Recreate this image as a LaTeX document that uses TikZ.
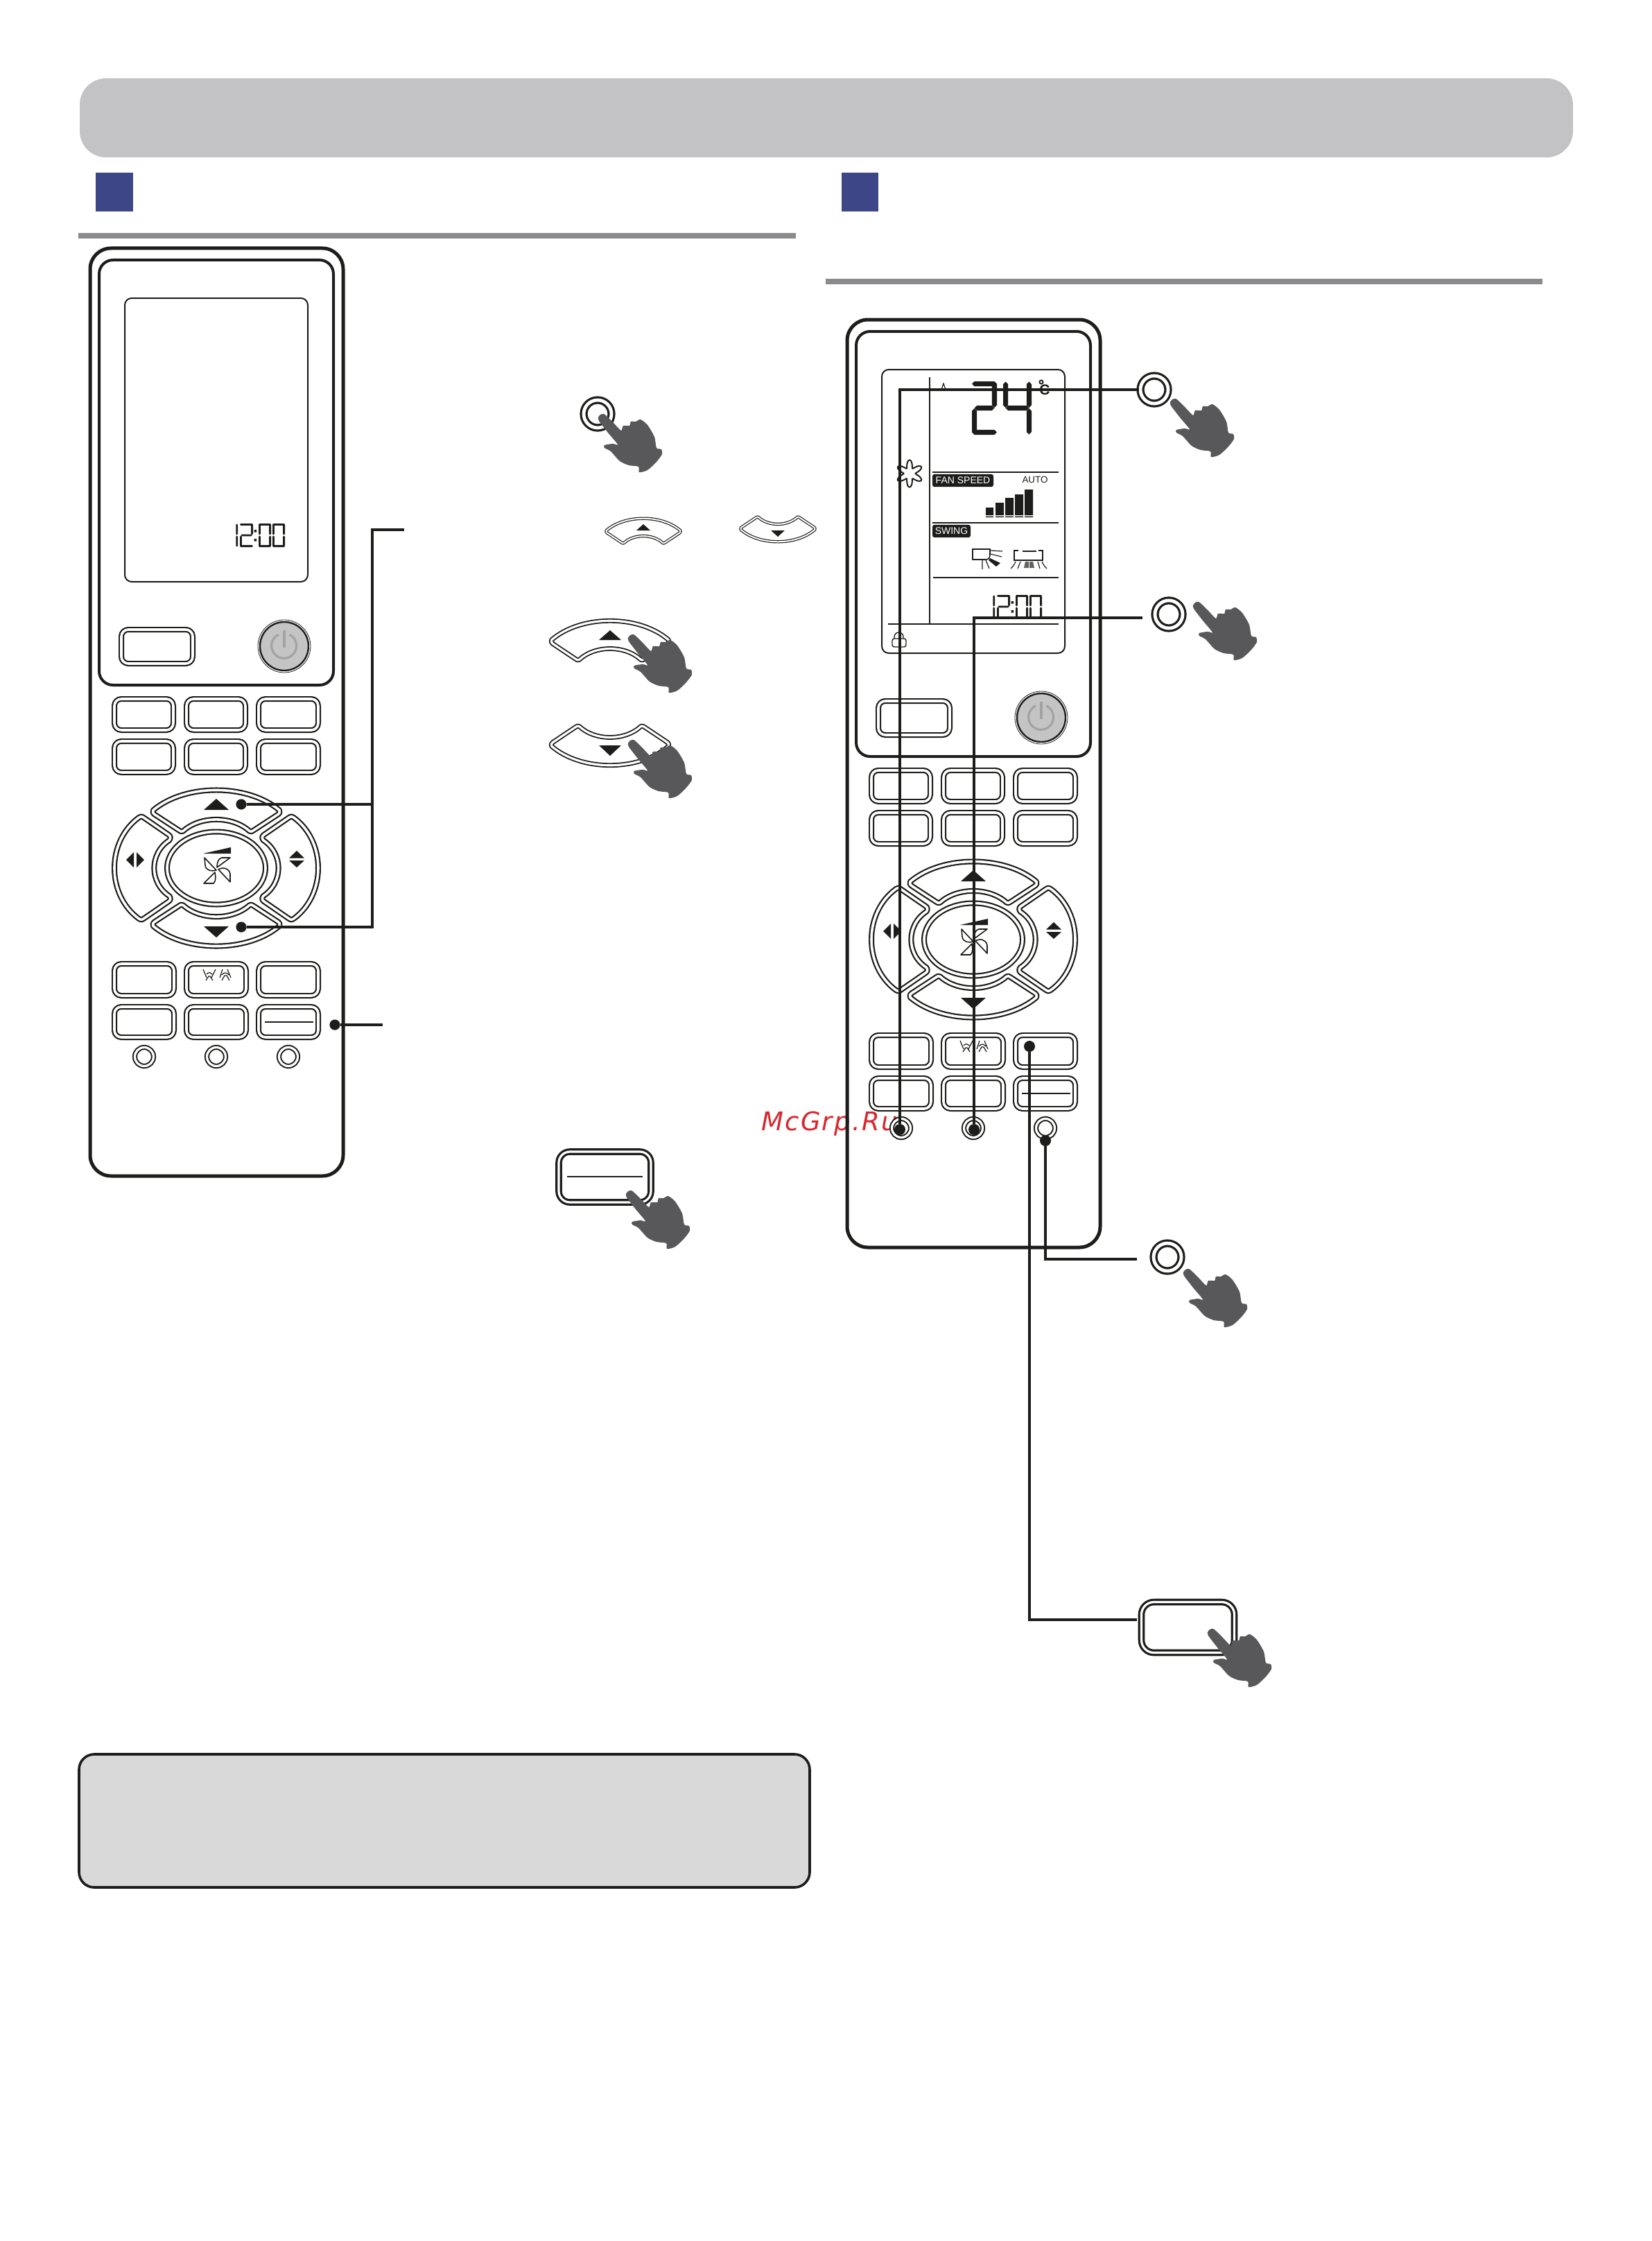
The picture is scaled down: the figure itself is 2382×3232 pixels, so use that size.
\documentclass[tikz,border=0pt]{standalone}
\usepackage{fontspec}
\setmainfont{Liberation Sans}
\newfontfamily\wmfont[LetterSpace=6]{DejaVu Sans}
\definecolor{ink}{HTML}{1D1D1B}
\definecolor{bandc}{HTML}{C3C2C4}
\definecolor{bluec}{HTML}{3D4687}
\definecolor{rulec}{HTML}{8B8A8D}
\definecolor{handc}{HTML}{58585A}
\definecolor{notec}{HTML}{D9D9D9}
\definecolor{powc}{HTML}{C4C4C4}
\definecolor{powd}{HTML}{A3A3A3}
\definecolor{wmc}{HTML}{D9272E}
\tikzset{
 dbl/.style={draw=ink,line width=1.1pt,double=white,double distance=1.8pt,line join=round},
 dblthin/.style={draw=ink,line width=.6pt,double=white,double distance=1pt,line join=round},
 dblbig/.style={draw=ink,line width=1.6pt,double=white,double distance=1.6pt,line join=round},
 ring/.style={circle,draw=ink,line width=1.6pt,double=white,double distance=2.4pt,minimum size=20pt,inner sep=0pt},
 conn/.style={draw=ink,line width=2pt},
 dotn/.style={circle,fill=ink,minimum size=7.6pt,inner sep=0pt,outer sep=0pt},
 thinl/.style={draw=ink,line width=1pt},
 hair/.style={draw=ink,line width=.6pt},
 lcdseg/.style={fill=ink},
}
\newcommand\upkeypath{(-97,-86) .. controls (-48,-126) and (48,-126) .. (97,-86) .. controls (98,-83) and (97,-81) .. (95,-80) -- (57,-56) .. controls (55,-54) and (53,-54) .. (51,-55) .. controls (25,-78) and (-25,-78) .. (-51,-55) .. controls (-53,-54) and (-55,-54) .. (-57,-56) -- (-95,-80) .. controls (-97,-81) and (-98,-83) .. (-97,-86) -- cycle}
\newcommand\leftkeypath{(-114,-76) .. controls (-162,-40) and (-162,40) .. (-114,76) .. controls (-112,78) and (-110,78) .. (-107,76) -- (-70,50) .. controls (-67,48) and (-67,45) .. (-69,42) .. controls (-99,22) and (-99,-22) .. (-69,-42) .. controls (-67,-45) and (-67,-48) .. (-70,-50) -- (-107,-76) .. controls (-110,-78) and (-112,-78) .. (-114,-76) -- cycle}
\newcommand\btn[4]{\draw[dbl,rounded corners=5pt] (#1+4,#2+4) rectangle (#3-4,#4-4);}
\newcommand\segH[3]{\fill[lcdseg] (#1,#3) -- (#1+\st,#3-\st) -- (#2-\st,#3-\st) -- (#2,#3) -- (#2-\st,#3+\st) -- (#1+\st,#3+\st) -- cycle;}
\newcommand\segV[3]{\fill[lcdseg] (#1,#2) -- (#1+\st,#2+\st) -- (#1+\st,#3-\st) -- (#1,#3) -- (#1-\st,#3-\st) -- (#1-\st,#2+\st) -- cycle;}
\newcommand\lcdsega{\segH{0}{\sw}{\st}}
\newcommand\lcdsegb{\segV{\sw-\st}{0.5}{\sh/2-.5}}
\newcommand\lcdsegc{\segV{\sw-\st}{\sh/2+.5}{\sh-.5}}
\newcommand\lcdsegd{\segH{0}{\sw}{\sh-\st}}
\newcommand\lcdsege{\segV{\st}{\sh/2+.5}{\sh-.5}}
\newcommand\lcdsegf{\segV{\st}{0.5}{\sh/2-.5}}
\newcommand\lcdsegg{\segH{\st}{\sw-\st}{\sh/2}}
\newcommand\lcdd[6]{\begin{scope}[shift={(#1,#2)}]\def\sw{#3}\def\sh{#4}\def\st{#5}%
 \foreach \s in {#6}{\csname lcdseg\s\endcsname}\end{scope}}
\newcommand\hand[2]{\fill[handc,shift={(#1,#2)}] plot[smooth cycle,tension=.45] coordinates {(-6,-1)(-3,-5)(2,-6)(7,-2)(17,8)(27,18)(30,11)(39,11)(41,5)(48,5)(55,2)(65,10)(75,27)(78,43)(85,45)(86,52)(78,63)(65,75)(53,78)(52,70)(38,68)(25,62)(12,48)(3,43)(3,39)(15,37)(22,38)(8,21)(-5,4)};}
\newcommand\remote[2]{%
\begin{scope}[shift={(#1,#2)}]
 \draw[ink,line width=2.5pt,rounded corners=15pt] (130,358) rectangle (495,1696);
 \draw[ink,line width=2pt,rounded corners=10pt] (143,375) rectangle (481,988);
 \draw[ink,line width=1pt,rounded corners=5pt] (180,430) rectangle (444,839);
 \lcdd{338}{755}{5}{34}{1.3}{b,c}
 \lcdd{346}{755}{19}{34}{1.4}{a,b,g,e,d}
 \fill[ink] (366.5,764) rectangle (370,767.5) (366.5,777) rectangle (370,780.5);
 \lcdd{373}{755}{18}{34}{1.4}{a,b,c,d,e,f}
 \lcdd{393}{755}{18}{34}{1.4}{a,b,c,d,e,f}
 \btn{171}{904}{282}{961}
 \draw[ink,line width=.4pt] (410,932) circle (38);
 \draw[ink,line width=1.2pt,fill=powc] (410,932) circle (35);
 \draw[powd,line width=1.6pt] (402,915) arc[start angle=-115,end angle=-425,radius=18];
 \draw[powd,line width=1.6pt] (410,909) -- (410,934);
 \btn{161}{1004}{254}{1057}\btn{265}{1004}{358}{1057}\btn{369}{1004}{463}{1057}
 \btn{161}{1065}{254}{1118}\btn{265}{1065}{358}{1118}\btn{369}{1065}{463}{1118}
 \btn{161}{1386}{255}{1440}\btn{265}{1386}{359}{1440}\btn{369}{1386}{463}{1440}
 \btn{161}{1448}{255}{1500}\btn{265}{1448}{359}{1500}\btn{369}{1448}{463}{1500}
 \draw[thinl] (382,1474) -- (452,1474);
 \draw[dbl,line width=1pt,double distance=1.6pt] (208,1524) circle (13.5);
 \draw[dbl,line width=1pt,double distance=1.6pt] (312,1524) circle (13.5);
 \draw[dbl,line width=1pt,double distance=1.6pt] (416,1524) circle (13.5);
 % person icons
 \draw[hair] (293,1398) -- (298,1410) (311,1398) -- (305,1410)
   (298,1405) .. controls (301,1402) and (303,1402) .. (306,1405)
   (297,1414) -- (301,1408) -- (303,1408) -- (307,1414);
 \draw[hair] (321,1398) -- (317,1410) (328,1398) -- (333,1410)
   (320,1406) .. controls (323,1402) and (327,1402) .. (330,1406)
   (320,1414) -- (324,1407) -- (327,1407) -- (331,1414);
 \begin{scope}[shift={(312,1252)}]
  \begin{scope}[xscale=.94,yscale=.97]\draw[dbl] \upkeypath;\end{scope}
  \begin{scope}[yscale=-.97,xscale=.94]\draw[dbl] \upkeypath;\end{scope}
  \begin{scope}[xscale=.98,yscale=.96]\draw[dbl] \leftkeypath;\end{scope}
  \begin{scope}[xscale=-.98,yscale=.96]\draw[dbl] \leftkeypath;\end{scope}
  \draw[dbl] (0,0) ellipse (71 and 52.5);
  \fill[ink] (0,-100) -- (18,-84) -- (-18,-84) -- cycle;
  \fill[ink] (0,100) -- (18,84) -- (-18,84) -- cycle;
  \fill[ink] (-130,-12) -- (-119,-23) -- (-119,-1) -- cycle;
  \fill[ink] (-104,-12) -- (-115,-23) -- (-115,-1) -- cycle;
  \fill[ink] (116,-25) -- (127,-14.5) -- (105,-14.5) -- cycle;
  \fill[ink] (116,-1) -- (127,-11) -- (105,-11) -- cycle;
  \fill[ink] (-19,-21) -- (21,-30) -- (21,-21) -- cycle;
  \draw[hair,line width=.8pt,line join=round]
   (-17,-15) -- (0,3) .. controls (-6,5) and (-15,4) .. (-16,-4) -- cycle
   (20,-15) -- (1,-1) .. controls (1,-8) and (3,-14) .. (8,-15) -- cycle
   (20,20) -- (3,2) .. controls (10,-2) and (18,0) .. (20,8) -- cycle
   (-18,22) -- (-2,6) .. controls (-1,12) and (0,18) .. (-4,22) -- cycle;
 \end{scope}
\end{scope}}
\begin{document}
\begin{tikzpicture}[x=0.5pt,y=-0.5pt]
\useasboundingbox (0,0) rectangle (2382,3232);
\fill[white] (0,0) rectangle (2382,3232);
% header
\fill[bandc,rounded corners=19pt] (115,113) rectangle (2269,227);
\fill[bluec] (138,249) rectangle (192,305);
\fill[bluec] (1214,249) rectangle (1267,305);
\fill[rulec] (113,336) rectangle (1148,344);
\fill[rulec] (1191,402) rectangle (2225,410);
% note box
\draw[ink,line width=1.8pt,fill=notec,rounded corners=11pt] (114,2530) rectangle (1168,2722);
% watermark
\node[anchor=base west,inner sep=0pt,text=wmc,font=\wmfont\itshape\fontsize{18.5}{20}\selectfont] (wm) at (1098,1630) {McGrp.Ru};
% remotes
\remote{0}{0}
\remote{1092}{103}
% right display
\draw[thinl] (1341,544) -- (1341,899);
\draw[thinl] (1281,900) -- (1527,900);
\draw[thinl] (1345,681) -- (1527,681);
\draw[thinl] (1345,754) -- (1527,754);
\draw[thinl] (1346,833) -- (1527,833);
\draw[hair] (1358,562) -- (1361,553) -- (1364,562);
\lcdd{1402}{550}{36}{77}{3.6}{a,b,g,e,d}
\lcdd{1447}{550}{41}{77}{3.6}{f,g,b,c}
\draw[ink,line width=.9pt] (1502,551) circle (2.6);
\node[inner sep=0pt,text=ink,font=\bfseries\fontsize{10.5}{10}\selectfont] (degc) at (1507,562) {C};
\draw[ink,line width=1pt,smooth,samples=121,domain=0:360] plot ({1312+(14+5.5*cos(6*(\x-90)))*cos(\x)},{683+(14+5.5*cos(6*(\x-90)))*sin(\x)}) -- cycle;
\node[fill=ink,rounded corners=1.5pt,inner sep=0pt,minimum width=44pt,minimum height=9.2pt,text=white,font=\fontsize{7}{8}\selectfont] (fanspeed) at (1389,693) {FAN SPEED};
\node[inner sep=0pt,text=ink,font=\fontsize{6.7}{8}\selectfont] (autot) at (1493,692) {AUTO};
\node[fill=ink,rounded corners=1.5pt,inner sep=0pt,minimum width=27.5pt,minimum height=9.2pt,text=white,font=\fontsize{7}{8}\selectfont] (swing) at (1372.5,766) {SWING};
\fill[ink] (1422,732) rectangle (1433,743) (1436,725) rectangle (1448,743) (1450,718) rectangle (1462,743) (1464,713) rectangle (1476,743) (1478,706) rectangle (1490,743);
\fill[ink] (1422,744.5) rectangle (1433,746) (1436,744.5) rectangle (1448,746) (1450,744.5) rectangle (1462,746) (1464,744.5) rectangle (1476,746) (1478,744.5) rectangle (1490,746);
% indoor unit icons
\draw[ink,line width=.8pt] (1403,792) -- (1428,792) -- (1428,800) .. controls (1428,804) and (1426,807) .. (1422,807) -- (1403,807) -- cycle;
\draw[hair] (1429,794) -- (1446,795) (1429,799) -- (1445,803) (1417,808) -- (1417,821) (1422,808) -- (1427,820);
\fill[ink] (1428,805) -- (1443,812) -- (1437,817) -- (1426,808) -- cycle;
\draw[ink,line width=.8pt] (1469,794) -- (1463,794) -- (1463,808) -- (1504,808) -- (1504,794) -- (1498,794) (1475,795) -- (1495,795);
\draw[hair] (1465,810) .. controls (1463,815) and (1460,818) .. (1458,820) (1472,810) -- (1468,820) (1497,810) -- (1500,820) (1503,810) .. controls (1505,815) and (1508,818) .. (1510,820);
\fill[ink!70!white] (1477,819) -- (1479,810) -- (1490,810) -- (1492,819) -- cycle;
\draw[white,line width=.4pt] (1484.5,810) -- (1484.5,819);
% lock
\draw[ink,line width=.7pt,rounded corners=1.5pt] (1287,921) rectangle (1307,933);
\draw[ink,line width=.7pt] (1290,921) -- (1290,918.5) arc[start angle=180,end angle=360,radius=6.5] -- (1303,921);
% left callouts
\node[dotn] (lup) at (348,1160) {};
\node[dotn] (ldown) at (348,1337) {};
\node[dotn] (lkey) at (483,1478) {};
\coordinate (ltop) at (583,764);
\coordinate (lturn) at (537,764);
\coordinate (lkeyend) at (552,1478);
\draw[conn] (ltop) -- (lturn) |- (ldown);
\draw[conn] (lturn) |- (lup);
\draw[conn] (lkey) -- (lkeyend);
% left illustrations
\node[ring] (lring) at (862,597) {};
\hand{869}{603}
\begin{scope}[shift={(928,815)},xscale=.55,yscale=.58]\draw[dblthin] \upkeypath;\end{scope}
\fill[ink] (928,756) -- (938,765) -- (918,765) -- cycle;
\begin{scope}[shift={(1122,714)},yscale=-.58,xscale=.55]\draw[dblthin] \upkeypath;\end{scope}
\fill[ink] (1122,774) -- (1132,765) -- (1112,765) -- cycle;
\begin{scope}[shift={(880,1002)},xscale=.87,yscale=.92]\draw[dbl,line width=.9pt,double distance=1.6pt] \upkeypath;\end{scope}
\fill[ink] (880,909) -- (896,923) -- (864,923) -- cycle;
\begin{scope}[shift={(880,997)},yscale=-.92,xscale=.87]\draw[dbl,line width=.9pt,double distance=1.6pt] \upkeypath;\end{scope}
\fill[ink] (880,1090) -- (896,1075) -- (864,1075) -- cycle;
\hand{912}{921}
\hand{912}{1073}
\draw[dblbig,rounded corners=8pt] (806,1661) rectangle (939,1734);
\draw[thinl] (818,1697) -- (927,1697);
\hand{909}{1723}
% right callouts
\node[ring] (ra) at (1665,562) {};
\node[ring] (rb) at (1686,886) {};
\node[ring] (rc) at (1684,1813) {};
\node[dotn,minimum size=8pt] (da) at (1298,1629) {};
\node[dotn,minimum size=8pt] (db) at (1405,1629) {};
\node[dotn,minimum size=8pt] (dc) at (1508,1645) {};
\node[dotn,minimum size=8pt] (dd) at (1485,1509) {};
\coordinate (bend) at (1648,891);
\coordinate (cend) at (1640,1816);
\coordinate (dend) at (1640,2336);
\draw[conn] (da) |- (ra);
\draw[conn] (db) |- (bend);
\draw[conn] (dc) |- (cend);
\draw[conn] (dd) |- (dend);
\draw[dblbig,rounded corners=9pt] (1646.5,2310.5) rectangle (1780.5,2383.5);
\hand{1694}{581}
\hand{1727}{874}
\hand{1713}{1836}
\hand{1748}{2355}
\end{tikzpicture}
\end{document}
